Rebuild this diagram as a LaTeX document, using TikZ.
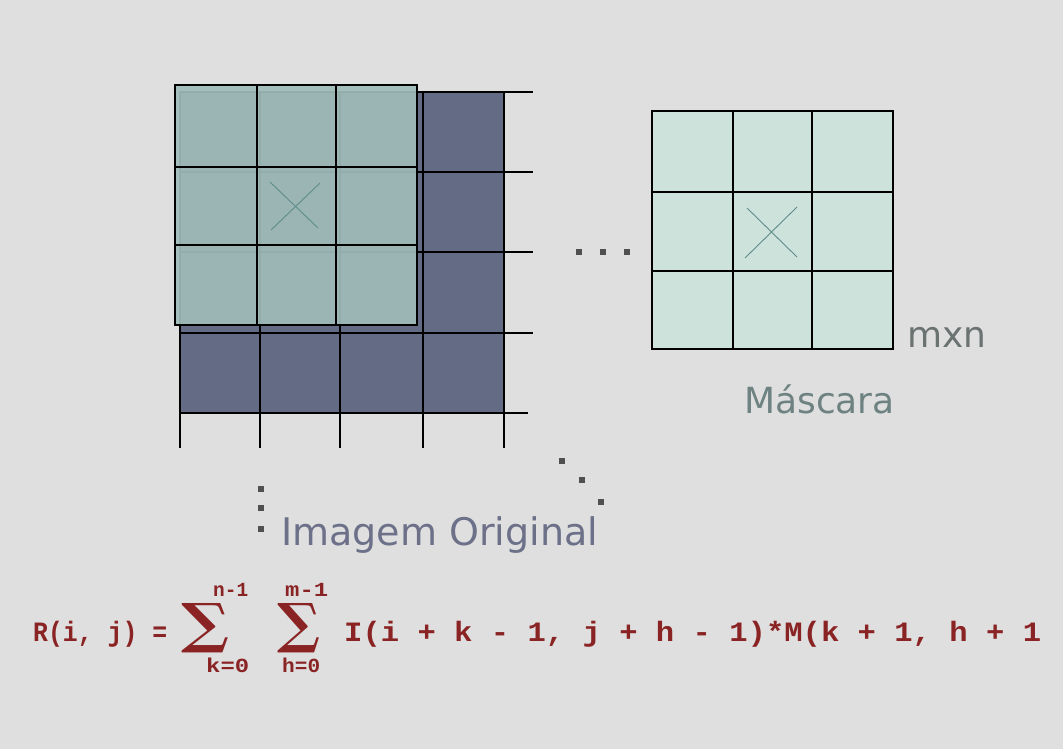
\documentclass[tikz,border=0pt]{standalone}
\usepackage{fontspec}
\usepackage{graphicx}
\setmainfont{DejaVu Sans}
\newfontfamily\monob{Liberation Mono Bold}
\newfontfamily\symf{DejaVu Serif Bold}
\definecolor{bgc}{HTML}{DFDFDF}
\definecolor{darkcell}{HTML}{636B85}
\definecolor{overcell}{HTML}{A0BCB9}
\definecolor{maskcell}{HTML}{CDE2DA}
\definecolor{crossc}{HTML}{5E8C8A}
\definecolor{dotc}{HTML}{505050}
\definecolor{imgtxt}{HTML}{6C7089}
\definecolor{masktxt}{HTML}{6E8282}
\definecolor{mxntxt}{HTML}{6B7272}
\definecolor{formc}{HTML}{8A2424}
\tikzset{
  gridline/.style={draw=black, line width=1.8pt},
  crossline/.style={draw=crossc, line width=0.9pt},
  dotsq/.style={fill=dotc},
  lbl/.style={inner sep=0pt, anchor=base west},
  form/.style={inner sep=0pt, text=formc, font=\monob},
  limit/.style={form, lbl, font=\monob\fontsize{20}{22}\selectfont},
}
\begin{document}
\begin{tikzpicture}[x=1pt,y=-1pt]
\fill[bgc] (0,0) rectangle (1063,749);
\useasboundingbox (0,0) rectangle (1063,749);
% original image grid
\fill[darkcell] (180,92) rectangle (504,413);
\foreach \y in {92,172,252,333} \draw[gridline] (180,\y) -- (533,\y);
\draw[gridline] (180,413) -- (528,413);
\foreach \x in {180,260,340,423,504} \draw[gridline] (\x,92) -- (\x,448);
% overlaid mask
\fill[overcell, fill opacity=0.92] (175,85) rectangle (417,325);
\draw[gridline] (175,85) rectangle (417,325);
\foreach \x in {257,336} \draw[gridline] (\x,85) -- (\x,325);
\foreach \y in {167,245} \draw[gridline] (175,\y) -- (417,\y);
\draw[crossline] (270,182) -- (318,228);
\draw[crossline] (271,230) -- (320,183);
% mask
\fill[maskcell] (652,111) rectangle (893,349);
\draw[gridline] (652,111) rectangle (893,349);
\foreach \x in {733,812} \draw[gridline] (\x,111) -- (\x,349);
\foreach \y in {192,271} \draw[gridline] (652,\y) -- (893,\y);
\draw[crossline] (747,208) -- (797,257);
\draw[crossline] (745,258) -- (797,207);
% dots
\foreach \p in {(579,252),(603,252),(627,252),(261,489),(261,508),(261,529),(562,461),(582,480),(601,502)}
  \fill[dotsq] \p ++(-2.6,-2.6) rectangle ++(5.2,5.2);
% labels
\node[lbl, text=mxntxt, font=\fontsize{36}{40}\selectfont] (mxn) at (907,347) {mxn};
\node[lbl, text=masktxt, font=\fontsize{36}{40}\selectfont] (mascara) at (744,413) {Máscara};
\node[lbl, text=imgtxt, font=\fontsize{38}{44}\selectfont] (imgorig) at (281,545) {Imagem Original};
% formula
\node[form, lbl, font=\monob\fontsize{28}{30}\selectfont] (rij) at (33,641) {\resizebox{134pt}{\height}{R(i, j) =}};
\node[form, inner sep=0pt, font=\symf] (sum1) at (206,628) {\resizebox{48pt}{39pt}{∑}};
\node[form, inner sep=0pt, font=\symf] (sum2) at (299,628) {\resizebox{43pt}{39pt}{∑}};
\node[limit] (up1) at (213,596) {\resizebox{35pt}{\height}{n-1}};
\node[limit] (up2) at (285,596) {\resizebox{43pt}{\height}{m-1}};
\node[limit] (lo1) at (206,672) {\resizebox{43pt}{\height}{k=0}};
\node[limit] (lo2) at (282,672) {\resizebox{38pt}{\height}{h=0}};
\node[form, lbl, font=\monob\fontsize{28}{30}\selectfont] (rest) at (344,641) {\resizebox{697pt}{\height}{I(i + k - 1, j + h - 1)*M(k + 1, h + 1}};
\end{tikzpicture}
\end{document}
